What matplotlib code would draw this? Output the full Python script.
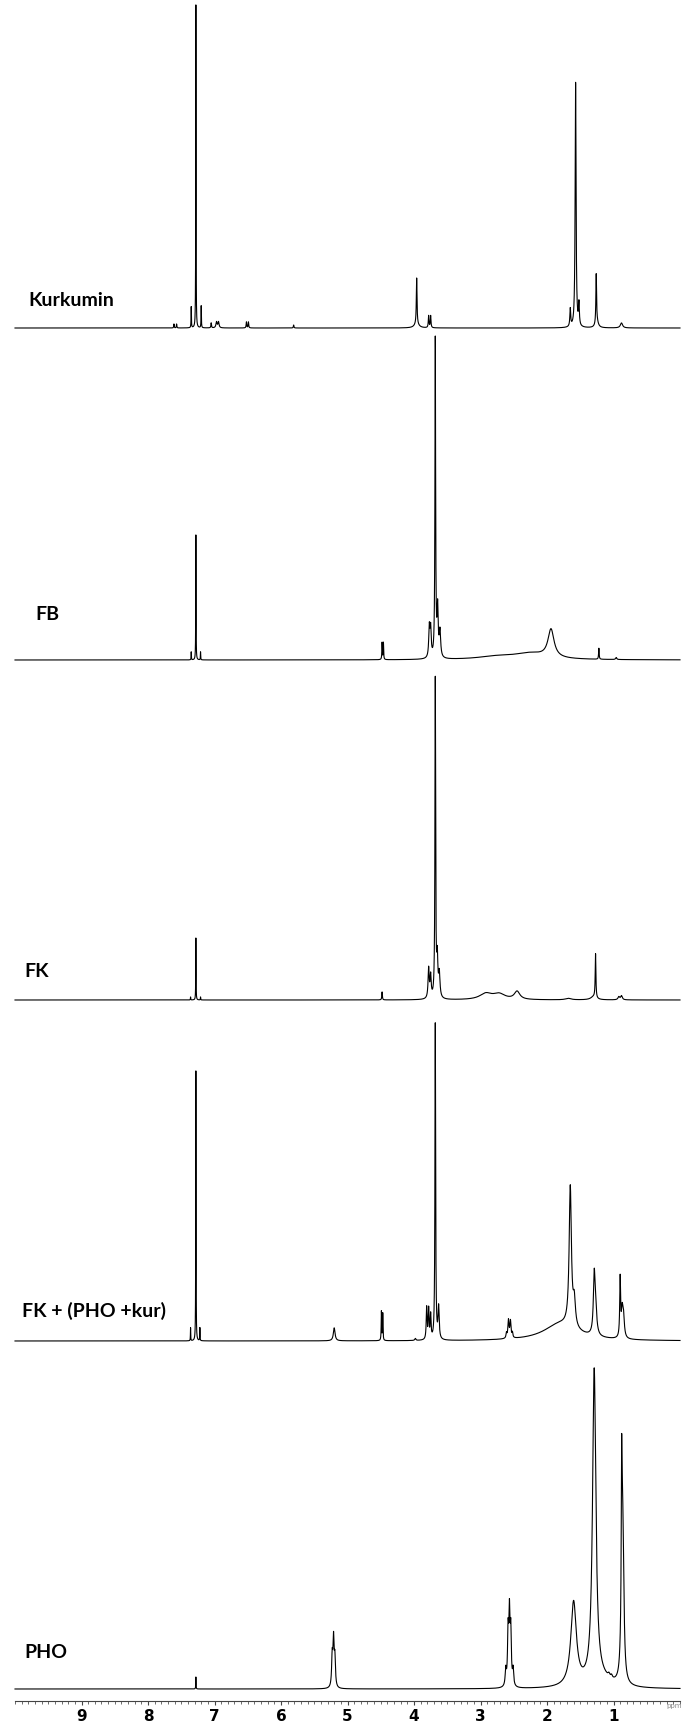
import numpy as np
import matplotlib
matplotlib.use("Agg")
import matplotlib.pyplot as plt

# peak tables: centre (ppm), height (px above baseline), FWHM (ppm)
kur_ppm = [7.61, 7.57, 7.35, 7.28, 7.20, 7.05, 6.97, 6.94, 6.52, 6.49, 5.81,
           3.96, 3.96, 3.78, 3.75, 1.65, 1.57, 1.52, 1.26, 1.25, 0.88]
kur_h = [4, 4, 21, 323, 22, 5, 6, 6, 6, 6, 3,
         46, 4, 12, 12, 18, 245, 22, 49, 6, 5]
kur_w = [0.008, 0.008, 0.006, 0.005, 0.006, 0.01, 0.02, 0.02, 0.01, 0.01, 0.01,
         0.012, 0.08, 0.012, 0.012, 0.015, 0.016, 0.015, 0.012, 0.05, 0.04]

fb_ppm = [7.35, 7.28, 7.21, 4.48, 4.46, 3.77, 3.75, 3.68, 3.645, 3.61,
          2.75, 2.25, 1.94, 1.22, 0.96]
fb_h = [8, 125, 8, 17, 17, 30, 28, 318, 48, 26,
        3, 6, 28, 11, 2]
fb_w = [0.005, 0.005, 0.005, 0.008, 0.008, 0.02, 0.02, 0.012, 0.02, 0.025,
        0.7, 0.6, 0.11, 0.01, 0.02]

fk_ppm = [7.36, 7.28, 7.21, 4.48, 3.78, 3.75, 3.68, 3.65, 3.62,
          2.92, 2.72, 2.45, 1.68, 1.30, 1.27, 0.92, 0.88]
fk_h = [3, 62, 3, 8, 30, 22, 318, 38, 24,
        6, 5.5, 8, 1.5, 3, 44, 3, 4]
fk_w = [0.005, 0.005, 0.005, 0.01, 0.02, 0.02, 0.012, 0.02, 0.025,
        0.22, 0.22, 0.1, 0.1, 0.1, 0.012, 0.03, 0.03]

mix_ppm = [7.36, 7.28, 7.22, 5.20, 4.49, 4.47, 3.98, 3.81, 3.78, 3.75, 3.68, 3.63,
           2.61, 2.58, 2.55, 2.52, 1.80, 1.65, 1.59, 1.29, 1.27, 0.90, 0.87, 0.85]
mix_h = [13, 270, 13, 13, 29, 27, 2, 32, 30, 24, 316, 32,
         5, 18, 17, 5, 17, 140, 25, 55, 25, 58, 26, 20]
mix_w = [0.005, 0.005, 0.005, 0.03, 0.008, 0.008, 0.02, 0.015, 0.015, 0.015, 0.012, 0.02,
         0.015, 0.02, 0.02, 0.015, 0.6, 0.04, 0.04, 0.03, 0.04, 0.015, 0.03, 0.03]

pho_ppm = [7.28, 5.23, 5.21, 5.19, 2.62, 2.585, 2.565, 2.545, 2.51,
           1.60, 1.29, 1.20, 1.07, 1.03, 0.878, 0.868, 0.852]
pho_h = [12, 30, 46, 28, 16, 52, 68, 52, 16,
         84, 312, 8, 3, 3, 120, 150, 60]
pho_w = [0.005, 0.02, 0.02, 0.02, 0.02, 0.02, 0.02, 0.02, 0.02,
         0.1, 0.06, 0.4, 0.03, 0.03, 0.012, 0.035, 0.03]

names = ["Kurkumin", "FB", "FK", "FK + (PHO +kur)", "PHO"]
tick_vals = [9, 8, 7, 6, 5, 4, 3, 2, 1]

# layout (pixels of the 682x1729 image)
W, H = 682, 1729
baselines = [328, 660, 1000, 1341, 1689]
label_xy = [(28, 301), (35, 615), (24, 972), (22, 1311), (24, 1653)]
axis_y = 1701

x = np.linspace(10.0, 0.0, 40001)


def spectrum(c, h, w):
    y = np.zeros_like(x)
    for ci, hi, wi in zip(c, h, w):
        y += hi / (1 + ((x - ci) / (wi / 2)) ** 2)
    return y


fig = plt.figure(figsize=(W / 100, H / 100), dpi=100)
ax = fig.add_axes([15 / W, (H - axis_y) / H, 665 / W, axis_y / H])
ax.set_xlim(10.0, 0.0)
ax.set_ylim(0, axis_y)

spectra = [(kur_ppm, kur_h, kur_w), (fb_ppm, fb_h, fb_w), (fk_ppm, fk_h, fk_w),
           (mix_ppm, mix_h, mix_w), (pho_ppm, pho_h, pho_w)]
for (c, h, w), base in zip(spectra, baselines):
    y = spectrum(c, h, w)
    ax.plot(x, (axis_y - base) + y, color="black", lw=0.8, clip_on=False)

for name, (lx, ly) in zip(names, label_xy):
    fig.text(lx / W, 1 - ly / H, name, fontsize=14, fontweight="bold",
             family="Lato", va="center", ha="left")

for s in ["top", "left", "right"]:
    ax.spines[s].set_visible(False)
ax.spines["bottom"].set_linewidth(0.8)
ax.spines["bottom"].set_color("#444444")
ax.set_yticks([])
ax.set_xticks(tick_vals)
ax.set_xticklabels([str(v) for v in tick_vals], fontsize=11, fontweight="bold",
                   family="DejaVu Sans")
ax.set_xticks(np.arange(0, 101) / 10, minor=True)
ax.tick_params(axis="x", which="major", length=3.2, width=0.8, pad=2.5,
               color="#444444")
ax.tick_params(axis="x", which="minor", length=2, width=0.6, color="#555555")
fig.text(666 / W, 1 - 1708 / H, "ppm", fontsize=5, color="#888888")

fig.savefig("out.png", dpi=100)
